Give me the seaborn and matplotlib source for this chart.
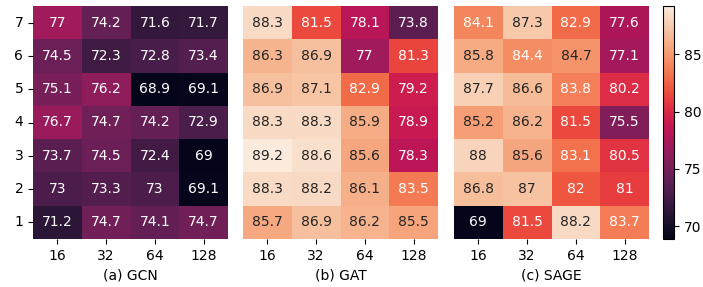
import numpy as np
import seaborn as sns
import matplotlib.pyplot as plt
from matplotlib.cm import ScalarMappable
from matplotlib.colors import Normalize

layers = [7, 6, 5, 4, 3, 2, 1]
hidden = [16, 32, 64, 128]

gcn = [[77, 74.2, 71.6, 71.7],
       [74.5, 72.3, 72.8, 73.4],
       [75.1, 76.2, 68.9, 69.1],
       [76.7, 74.7, 74.2, 72.9],
       [73.7, 74.5, 72.4, 69],
       [73, 73.3, 73, 69.1],
       [71.2, 74.7, 74.1, 74.7]]

gat = [[88.3, 81.5, 78.1, 73.8],
       [86.3, 86.9, 77, 81.3],
       [86.9, 87.1, 82.9, 79.2],
       [88.3, 88.3, 85.9, 78.9],
       [89.2, 88.6, 85.6, 78.3],
       [88.3, 88.2, 86.1, 83.5],
       [85.7, 86.9, 86.2, 85.5]]

sage = [[84.1, 87.3, 82.9, 77.6],
        [85.8, 84.4, 84.7, 77.1],
        [87.7, 86.6, 83.8, 80.2],
        [85.2, 86.2, 81.5, 75.5],
        [88, 85.6, 83.1, 80.5],
        [86.8, 87, 82, 81],
        [69, 81.5, 88.2, 83.7]]

titles = ['(a) GCN', '(b) GAT', '(c) SAGE']

vmin = min(np.min(gcn), np.min(gat), np.min(sage))
vmax = max(np.max(gcn), np.max(gat), np.max(sage))

fig = plt.figure(figsize=(7.03, 2.87), dpi=100)
W, H = 703, 287
lefts = [33, 243, 454]
axes = [fig.add_axes([l / W, (H - 239) / H, 195 / W, 233 / H]) for l in lefts]
cax = fig.add_axes([663 / W, (H - 239) / H, 11 / W, 233 / H])

for ax, data, title in zip(axes, [gcn, gat, sage], titles):
    sns.heatmap(np.array(data), ax=ax, annot=True, fmt='g', cmap='rocket',
                vmin=vmin, vmax=vmax, cbar=False,
                xticklabels=hidden, yticklabels=layers,
                annot_kws={'size': 10})
    ax.set_xlabel(title, fontsize=10)
    ax.tick_params(labelsize=10)
    ax.set_yticklabels(layers, rotation=0)
    if ax is not axes[0]:
        ax.set_yticks([])

sm = ScalarMappable(norm=Normalize(vmin=vmin, vmax=vmax), cmap='rocket')
cb = fig.colorbar(sm, cax=cax)
cb.set_ticks([70, 75, 80, 85])
cb.ax.tick_params(labelsize=10)

fig.savefig('out.png', dpi=100)
